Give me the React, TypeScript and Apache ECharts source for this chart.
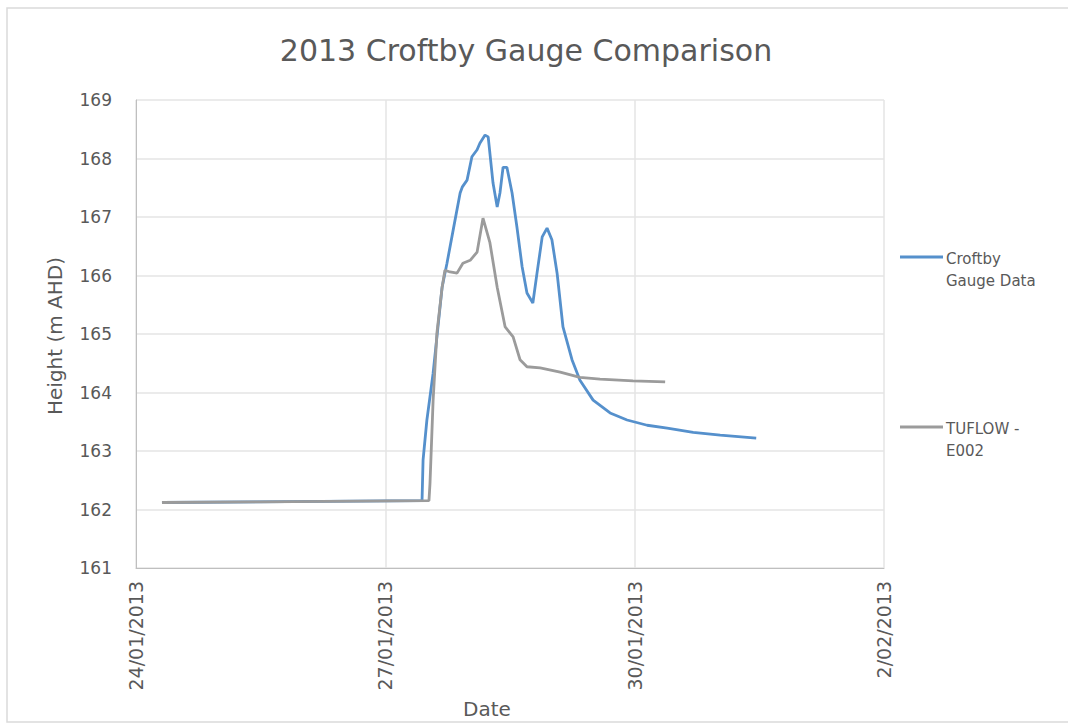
import React, { useEffect, useRef } from "react";
import * as echarts from "echarts";

const TITLE = "2013 Croftby Gauge Comparison";
const SERIES_NAMES = ["Croftby Gauge Data", "TUFLOW - E002"];
const X_START = "2013-01-24T00:00";
const X_END_DAYS = 9;
const X_TICK_DAYS = 3;
const Y_MIN = 161;
const Y_MAX = 169;

const gaugeTimes = [
  "2013-01-24T07:30", "2013-01-27T10:36", "2013-01-27T10:54", "2013-01-27T12:00",
  "2013-01-27T13:48", "2013-01-27T16:24", "2013-01-27T17:48", "2013-01-27T19:36",
  "2013-01-27T21:36", "2013-01-27T22:12", "2013-01-27T23:36", "2013-01-28T01:00",
  "2013-01-28T02:30", "2013-01-28T03:18", "2013-01-28T04:48", "2013-01-28T05:42",
  "2013-01-28T07:06", "2013-01-28T08:18", "2013-01-28T09:06", "2013-01-28T10:00",
  "2013-01-28T11:06", "2013-01-28T12:36", "2013-01-28T14:00", "2013-01-28T15:30",
  "2013-01-28T16:54", "2013-01-28T18:36", "2013-01-28T19:48", "2013-01-28T21:18",
  "2013-01-28T22:42", "2013-01-29T00:06", "2013-01-29T01:36", "2013-01-29T03:18",
  "2013-01-29T05:54", "2013-01-29T08:12", "2013-01-29T12:00", "2013-01-29T16:54",
  "2013-01-29T21:48", "2013-01-30T03:36", "2013-01-30T09:24", "2013-01-30T16:54",
  "2013-01-31T00:42", "2013-01-31T11:06",
];
const gaugeValues = [
  162.12, 162.15, 162.85, 163.53,
  164.33, 165.8, 166.21, 166.78,
  167.41, 167.51, 167.63, 168.03,
  168.15, 168.26, 168.4, 168.37,
  167.58, 167.17, 167.41, 167.85,
  167.85, 167.41, 166.83, 166.15,
  165.7, 165.53, 166.04, 166.66,
  166.81, 166.61, 166.04, 165.12,
  164.56, 164.21, 163.87, 163.65,
  163.53, 163.44, 163.39, 163.32,
  163.27, 163.22,
];

const tuflowTimes = [
  "2013-01-24T07:30", "2013-01-25T12:00", "2013-01-27T12:36", "2013-01-27T12:54",
  "2013-01-27T13:48", "2013-01-27T14:54", "2013-01-27T16:24", "2013-01-27T17:12",
  "2013-01-27T18:42", "2013-01-27T20:42", "2013-01-27T22:24", "2013-01-28T00:30",
  "2013-01-28T02:30", "2013-01-28T04:12", "2013-01-28T06:12", "2013-01-28T08:18",
  "2013-01-28T10:36", "2013-01-28T12:54", "2013-01-28T14:54", "2013-01-28T16:54",
  "2013-01-28T20:42", "2013-01-29T02:30", "2013-01-29T08:12", "2013-01-29T14:00",
  "2013-01-29T23:30", "2013-01-30T08:48",
];
const tuflowValues = [
  162.12, 162.13, 162.15, 162.45,
  163.87, 165.02, 165.8, 166.09,
  166.06, 166.04, 166.21, 166.26,
  166.4, 166.98, 166.56, 165.8,
  165.12, 164.95, 164.56, 164.44,
  164.42, 164.35, 164.26, 164.23,
  164.2, 164.18,
];

const DAY_MS = 86400000;
const baseMs = Date.parse(X_START + ":00Z");
const toDays = (s: string) => (Date.parse(s + ":00Z") - baseMs) / DAY_MS;
const pad2 = (n: number) => (n < 10 ? "0" + n : "" + n);
const fmtDate = (d: number) => {
  const dt = new Date(baseMs + Math.round(d * DAY_MS));
  return `${dt.getUTCDate()}/${pad2(dt.getUTCMonth() + 1)}/${dt.getUTCFullYear()}`;
};

const FONT = "DejaVu Sans";
const TXT = "#595959";
const BLUE = "#5590cc";
const GRAY = "#9b9b9b";

export default function App() {
  const ref = useRef<HTMLDivElement>(null);
  useEffect(() => {
    if (!ref.current) return;
    const chart = echarts.init(ref.current, undefined, { renderer: "svg" });
    const gaugeData = gaugeTimes.map((t, i) => [toDays(t), gaugeValues[i]]);
    const tuflowData = tuflowTimes.map((t, i) => [toDays(t), tuflowValues[i]]);
    chart.setOption({
      animation: false,
      backgroundColor: "#ffffff",
      title: {
        text: TITLE,
        left: 521,
        textAlign: "center",
        top: 30,
        textStyle: { fontFamily: FONT, fontSize: 30, fontWeight: "normal", color: TXT },
      },
      grid: { left: 136, right: 184, top: 100, bottom: 156 },
      xAxis: {
        type: "value",
        min: 0,
        max: X_END_DAYS,
        interval: X_TICK_DAYS,
        axisLine: { show: true, lineStyle: { color: "#bfbfbf", width: 1 } },
        axisTick: { show: false },
        splitLine: { show: true, lineStyle: { color: "#e4e4e4", width: 1.5 } },
        axisLabel: {
          rotate: 90,
          margin: 13,
          formatter: (v: number) => fmtDate(v),
          fontFamily: FONT,
          fontSize: 19,
          color: TXT,
        },
      },
      yAxis: {
        type: "value",
        min: Y_MIN,
        max: Y_MAX,
        interval: 1,
        axisLine: { show: true, lineStyle: { color: "#bfbfbf", width: 1 } },
        axisTick: { show: false },
        splitLine: { show: true, lineStyle: { color: "#e4e4e4", width: 1.5 } },
        axisLabel: { margin: 24, fontFamily: FONT, fontSize: 17, color: TXT },
      },
      series: [
        {
          name: SERIES_NAMES[0],
          type: "line",
          data: gaugeData,
          showSymbol: false,
          lineStyle: { color: BLUE, width: 2.8 },
          itemStyle: { color: BLUE },
        },
        {
          name: SERIES_NAMES[1],
          type: "line",
          data: tuflowData,
          showSymbol: false,
          lineStyle: { color: GRAY, width: 2.8 },
          itemStyle: { color: GRAY },
        },
      ],
      graphic: [
        {
          type: "rect",
          shape: { x: 7, y: 8, width: 1070, height: 714 },
          style: { fill: "none", stroke: "#dadada", lineWidth: 1.5 },
          silent: true,
        },
        {
          type: "text",
          x: 55,
          y: 336,
          rotation: Math.PI / 2,
          style: {
            text: "Height (m AHD)",
            fontFamily: FONT,
            fontSize: 20,
            fill: TXT,
            align: "center",
            verticalAlign: "middle",
          },
        },
        {
          type: "text",
          x: 487,
          y: 709,
          style: {
            text: "Date",
            fontFamily: FONT,
            fontSize: 20,
            fill: TXT,
            align: "center",
            verticalAlign: "middle",
          },
        },
        {
          type: "line",
          shape: { x1: 900, y1: 257, x2: 943, y2: 257 },
          style: { stroke: BLUE, lineWidth: 2.8 },
        },
        {
          type: "text",
          x: 946,
          y: 248,
          style: {
            text: "Croftby\nGauge Data",
            fontFamily: FONT,
            fontSize: 15,
            lineHeight: 22,
            fill: TXT,
            align: "left",
            verticalAlign: "top",
          },
        },
        {
          type: "line",
          shape: { x1: 900, y1: 427, x2: 943, y2: 427 },
          style: { stroke: GRAY, lineWidth: 2.8 },
        },
        {
          type: "text",
          x: 946,
          y: 418,
          style: {
            text: "TUFLOW -\nE002",
            fontFamily: FONT,
            fontSize: 15,
            lineHeight: 22,
            fill: TXT,
            align: "left",
            verticalAlign: "top",
          },
        },
      ],
    });
    return () => chart.dispose();
  }, []);
  return (
    <div
      ref={ref}
      style={{ position: "fixed", left: 0, top: 0, width: 1068, height: 724 }}
    />
  );
}
